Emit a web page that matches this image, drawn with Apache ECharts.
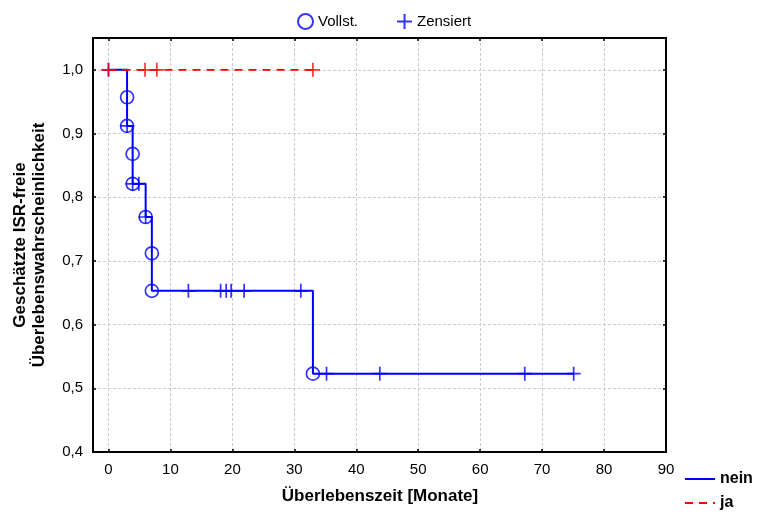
<!DOCTYPE html>
<html><head><meta charset="utf-8">
<script src="https://cdn.jsdelivr.net/npm/echarts@6/dist/echarts.min.js"></script>
<style>html,body{margin:0;padding:0;background:#fff}#c{width:765px;height:517px}</style>
</head><body><div id="c"></div>
<script>
// ---- data ----
var xTicks = [0,10,20,30,40,50,60,70,80,90];
var yTicks = [0.4,0.5,0.6,0.7,0.8,0.9,1.0];
// group "nein": event (complete) times and survival after each event
var neinEventTimes = [3, 3, 3.9, 3.9, 6, 7, 7, 33];
var neinSurvival   = [0.957, 0.912, 0.868, 0.821, 0.769, 0.712, 0.653, 0.523];
var neinCensorTimes = [0, 3, 3.9, 4.9, 6, 12.9, 18.1, 19.0, 19.8, 21.9, 31.05, 35.2, 43.8, 67.2, 75.1];
var neinEnd = 75.1;
// group "ja": no events, only censored
var jaCensorTimes = [0, 5.9, 7.8, 33];
var jaEnd = 33;
var jaSurvival = 1.0;

// ---- build series data ----
function stepValue(times, surv, t){
  var v = 1.0;
  for (var i=0;i<times.length;i++){ if (times[i] <= t) v = surv[i]; }
  return v;
}
var neinLine = [[0,1.0]];
for (var i=0;i<neinEventTimes.length;i++) neinLine.push([neinEventTimes[i], neinSurvival[i]]);
neinLine.push([neinEnd, stepValue(neinEventTimes, neinSurvival, neinEnd)]);
var neinEvents = neinEventTimes.map(function(t,i){return [t, neinSurvival[i]];});
var neinCens = neinCensorTimes.map(function(t){return [t, stepValue(neinEventTimes, neinSurvival, t)];});
var jaLine = [[0, jaSurvival],[jaEnd, jaSurvival]];
var jaCens = jaCensorTimes.map(function(t){return [t, jaSurvival];});

var BLUE = '#0000ff', RED = '#ff0000';
var FONT = 'Liberation Sans';
var crossPath = 'path://M0,5L10,5M5,0L5,10';
var G = {left:93, top:38, right:99, bottom:65, W:765, H:517};

var chart = echarts.init(document.getElementById('c'), null, {renderer:'canvas'});
var gridLine = {show:true, lineStyle:{color:'#cccccc', type:[3,2], width:1}};
var tickStyle = {color:'#000', width:1.5};
chart.setOption({
  animation:false,
  backgroundColor:'#fff',
  grid:{left:G.left, top:G.top, right:G.right, bottom:G.bottom, show:false, containLabel:false},
  legend:[{
    data:[{name:'Vollst.', icon:'circle', itemStyle:{color:'#fff', borderColor:BLUE, borderWidth:2}}, {name:'Zensiert'}],
    top:8, left:292, itemWidth:15, itemHeight:15, itemGap:38,
    textStyle:{fontFamily:FONT, fontSize:15, color:'#000'}
  },{
    data:[{name:'nein', itemStyle:{opacity:0}}, {name:'ja', itemStyle:{opacity:0}}],
    orient:'vertical', left:679, top:466, itemWidth:30, itemHeight:12, itemGap:8,
    textStyle:{fontFamily:FONT, fontSize:16, fontWeight:'bold', color:'#000'}
  }],
  xAxis:[{
    type:'value', min:-2.5, max:90,
    axisLine:{show:false, onZero:false},
    axisTick:{show:true, inside:true, length:3, customValues:xTicks, lineStyle:tickStyle},
    axisLabel:{customValues:xTicks, fontFamily:FONT, fontSize:15, color:'#000', margin:10},
    splitLine:gridLine
  },{
    type:'value', min:-2.5, max:90, position:'top',
    axisLine:{show:false, onZero:false},
    axisTick:{show:true, inside:true, length:3, customValues:xTicks, lineStyle:tickStyle},
    axisLabel:{show:false, customValues:xTicks},
    splitLine:{show:false}
  }],
  yAxis:[{
    type:'value', min:0.4, max:1.05,
    axisLine:{show:false, onZero:false},
    axisTick:{show:true, inside:true, length:3, customValues:yTicks, lineStyle:tickStyle},
    axisLabel:{customValues:yTicks, fontFamily:FONT, fontSize:15, color:'#000', margin:10,
      formatter:function(v){return v.toFixed(1).replace('.',',');}},
    splitLine:gridLine
  },{
    type:'value', min:0.4, max:1.05, position:'right',
    axisLine:{show:false, onZero:false},
    axisTick:{show:true, inside:true, length:3, customValues:yTicks, lineStyle:tickStyle},
    axisLabel:{show:false, customValues:yTicks},
    splitLine:{show:false}
  }],
  series:[
    {name:'nein', type:'line', step:'end', data:neinLine, symbol:'none', showSymbol:false,
     lineStyle:{color:BLUE, width:2}, itemStyle:{color:BLUE}, z:3},
    {name:'Vollst.', type:'scatter', data:neinEvents, symbol:'circle', symbolSize:13,
     itemStyle:{color:'rgba(0,0,0,0)', borderColor:BLUE, borderWidth:1.7}, z:4},
    {name:'Zensiert', type:'scatter', data:neinCens, symbol:crossPath, symbolSize:14,
     itemStyle:{color:BLUE, borderColor:BLUE, borderWidth:1.7}, z:4},
    {name:'ja', type:'line', data:jaLine, symbol:'none', showSymbol:false,
     lineStyle:{color:RED, width:1.7, type:[8,6]}, itemStyle:{color:RED}, z:5},
    {name:'jaCens', type:'scatter', data:jaCens, symbol:crossPath, symbolSize:14,
     itemStyle:{color:RED, borderColor:RED, borderWidth:1.7}, z:6}
  ],
  graphic:[
    {type:'rect', z:100, silent:true,
     shape:{x:G.left, y:G.top, width:G.W-G.left-G.right, height:G.H-G.top-G.bottom},
     style:{fill:null, stroke:'#000', lineWidth:2}},
    {type:'text', x:380, y:496, style:{text:'Überlebenszeit [Monate]', font:'bold 17px "Liberation Sans"', fill:'#000', textAlign:'center', textVerticalAlign:'middle'}},
    {type:'text', x:20, y:245, rotation:Math.PI/2, style:{text:'Geschätzte ISR-freie', font:'bold 17px "Liberation Sans"', fill:'#000', textAlign:'center', textVerticalAlign:'middle'}},
    {type:'text', x:39, y:245, rotation:Math.PI/2, style:{text:'Überlebenswahrscheinlichkeit', font:'bold 17px "Liberation Sans"', fill:'#000', textAlign:'center', textVerticalAlign:'middle'}}
  ]
});
</script></body></html>
